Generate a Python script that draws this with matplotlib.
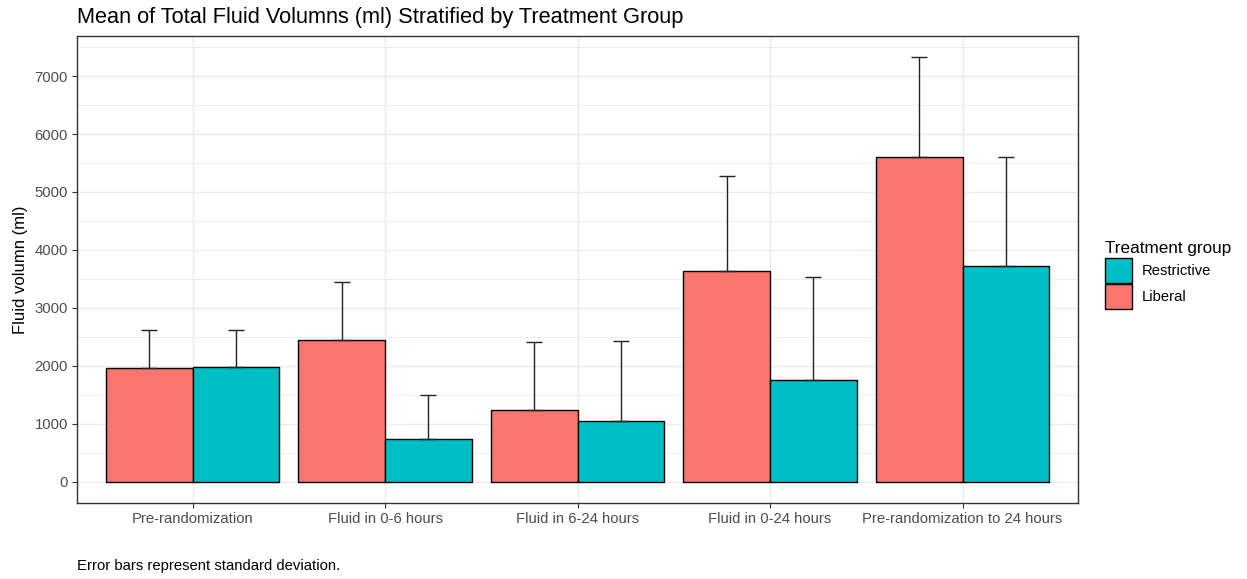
import numpy as np
import matplotlib
matplotlib.use("Agg")
from matplotlib import pyplot as plt
from matplotlib.patches import Patch

plt.rcParams['font.family'] = ['Liberation Sans', 'DejaVu Sans']

categories = ["Pre-randomization", "Fluid in 0-6 hours", "Fluid in 6-24 hours",
              "Fluid in 0-24 hours", "Pre-randomization to 24 hours"]
liberal_mean = [1960, 2440, 1240, 3645, 5605]
liberal_sd = [655, 1000, 1170, 1625, 1720]
restrictive_mean = [1985, 740, 1050, 1755, 3730]
restrictive_sd = [630, 750, 1375, 1770, 1875]

col_lib = "#F8766D"
col_res = "#00BFC4"

fig = plt.figure(figsize=(12.47, 5.79), dpi=100)
W, H = 1247, 579
ax = fig.add_axes([77 / W, (H - 503) / H, (1078 - 77) / W, (503 - 36) / H])

x = np.arange(1, len(categories) + 1)
bw = 0.45
ax.bar(x - bw / 2, liberal_mean, width=bw, color=col_lib, edgecolor="black", linewidth=1, zorder=3)
ax.bar(x + bw / 2, restrictive_mean, width=bw, color=col_res, edgecolor="black", linewidth=1, zorder=3)
ax.errorbar(x - bw / 2, liberal_mean, yerr=[np.zeros(len(x)), liberal_sd], fmt="none",
            ecolor="#222222", elinewidth=1, capsize=6, capthick=1, zorder=4)
ax.errorbar(x + bw / 2, restrictive_mean, yerr=[np.zeros(len(x)), restrictive_sd], fmt="none",
            ecolor="#222222", elinewidth=1, capsize=6, capthick=1, zorder=4)

ymax = max(np.max(np.add(liberal_mean, liberal_sd)), np.max(np.add(restrictive_mean, restrictive_sd)))
ax.set_ylim(-0.05 * ymax, 1.05 * ymax)
ax.set_xlim(0.4, len(categories) + 0.6)

ax.set_yticks(np.arange(0, 7001, 1000))
ax.set_yticks(np.arange(500, 7501, 1000), minor=True)
ax.set_xticks(x)
ax.set_xticklabels(categories)
ax.grid(True, which="major", color="#EBEBEB", linewidth=1, zorder=0)
ax.grid(True, which="minor", axis="y", color="#EBEBEB", linewidth=0.6, zorder=0)
ax.set_axisbelow(True)
ax.tick_params(which="minor", length=0)
ax.tick_params(which="major", length=3.5, color="#333333", labelsize=10.7, labelcolor="#4D4D4D", pad=3)
for s in ax.spines.values():
    s.set_color("#333333")
    s.set_linewidth(1)

ax.set_ylabel("Fluid volumn (ml)", fontsize=12, labelpad=5)
fig.text(77 / W, 1 - 17 / H, "Mean of Total Fluid Volumns (ml) Stratified by Treatment Group",
         fontsize=15.7, ha="left", va="center")
fig.text(77 / W, 1 - 566 / H, "Error bars represent standard deviation.",
         fontsize=10.7, ha="left", va="center")

handles = [Patch(facecolor=col_res, edgecolor="black", label="Restrictive"),
           Patch(facecolor=col_lib, edgecolor="black", label="Liberal")]
fig.legend(handles=handles, title="Treatment group", loc="upper left",
           bbox_to_anchor=(1092 / W, 1 - 228 / H), frameon=False, fontsize=10.6,
           title_fontsize=12.3, handlelength=1.85, handleheight=2.2, labelspacing=0.12,
           handletextpad=0.65, alignment="left")

fig.savefig("out.png", dpi=100)
